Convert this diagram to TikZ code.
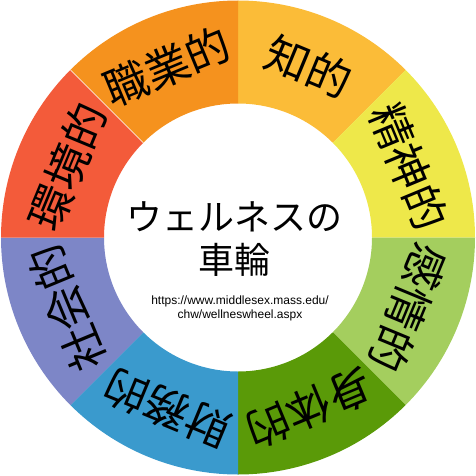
\documentclass[tikz,border=0pt]{standalone}
\usepackage{fontspec}
\newfontfamily\jpfont{Noto Sans CJK JP}
\setsansfont{Liberation Sans}
\definecolor{cIntel}{HTML}{FBBC38}
\definecolor{cSpirit}{HTML}{EEE84A}
\definecolor{cEmot}{HTML}{A4CE5E}
\definecolor{cPhys}{HTML}{5A9A08}
\definecolor{cFin}{HTML}{3A9ACD}
\definecolor{cSoc}{HTML}{7D86C7}
\definecolor{cEnv}{HTML}{F35B3A}
\definecolor{cOcc}{HTML}{F5921E}
\tikzset{
  seglabel/.style={font=\jpfont\fontsize{44}{44}\selectfont, inner sep=0pt, text=black},
  titletext/.style={font=\jpfont\fontsize{36}{43}\selectfont, align=center, inner sep=0pt},
  urltext/.style={font=\sffamily\fontsize{12}{13.5}\selectfont, align=center, inner sep=0pt}
}
\newcommand{\ringseg}[3]{%
  \fill[#3] (#1:134) -- (#1:237) arc[start angle=#1, end angle=#2, radius=237] -- (#2:134) arc[start angle=#2, end angle=#1, radius=134] -- cycle;}
\begin{document}
\begin{tikzpicture}[x=1pt,y=1pt]
\useasboundingbox (0,0) rectangle (476,475);
\begin{scope}[shift={(238,237.5)}]
  \ringseg{45}{90}{cIntel}
  \ringseg{0}{45}{cSpirit}
  \ringseg{-45}{0}{cEmot}
  \ringseg{-90}{-45}{cPhys}
  \ringseg{-135}{-90}{cFin}
  \ringseg{-180}{-135}{cSoc}
  \ringseg{135}{180}{cEnv}
  \ringseg{90}{135}{cOcc}
  \draw[white, line width=0.4pt] (135:134) -- (135:237);
  \node[seglabel, rotate=-22.5] (l1) at (67.5:185) {知的};
  \node[seglabel, rotate=-67.5] (l2) at (22.5:185) {精神的};
  \node[seglabel, rotate=-112.5] (l3) at (-22.5:185) {感情的};
  \node[seglabel, rotate=-157.5] (l4) at (-67.5:185) {身体的};
  \node[seglabel, rotate=157.5] (l5) at (-112.5:185) {財務的};
  \node[seglabel, rotate=112.5] (l6) at (-157.5:185) {社会的};
  \node[seglabel, rotate=67.5] (l7) at (157.5:185) {環境的};
  \node[seglabel, rotate=22.5] (l8) at (112.5:185) {職業的};
  \node[titletext] (title) at (-4,-2) {ウェルネスの\\車輪};
  \node[urltext] (url) at (2,-71) {https://www.middlesex.mass.edu/\\chw/wellneswheel.aspx};
\end{scope}
\end{tikzpicture}
\end{document}
